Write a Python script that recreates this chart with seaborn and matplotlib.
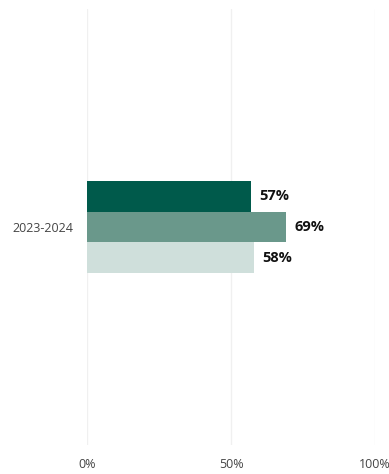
import matplotlib
matplotlib.use("Agg")
import matplotlib.pyplot as plt
import seaborn as sns
import pandas as pd

periods = ["2023-2024"]
series = ["A", "B", "C"]
values = [57, 69, 58]
colors = ["#005a4b", "#6a988b", "#cfdfdb"]
xticks = [0, 50, 100]
xtick_labels = ["0%", "50%", "100%"]

sns.set_theme(style="white")
plt.rcParams["font.family"] = ["Open Sans", "DejaVu Sans"]

df = pd.DataFrame({
    "period": periods * len(series),
    "series": series,
    "value": values,
})

fig = plt.figure(figsize=(3.89, 4.74), dpi=100)
ax = fig.add_axes([87 / 389, 29 / 474, 288 / 389, 436 / 474])

sns.barplot(data=df, x="value", y="period", hue="series", orient="h",
            palette=colors, width=0.213, saturation=1, ax=ax, legend=False,
            linewidth=0, edgecolor="none")

ax.set_ylim(0.5, -0.5)
ax.set_xlim(0, 100)

for cont in ax.containers:
    ax.bar_label(cont, labels=[f"{v:.0f}%" for v in cont.datavalues],
                 padding=6, fontsize=10.5, fontweight="bold", color="#111111")

ax.set_xticks(xticks)
ax.set_xticklabels(xtick_labels, fontsize=9, color="#444444")
ax.tick_params(axis="x", length=0, pad=9)
ax.tick_params(axis="y", length=0, pad=10, labelsize=9, labelcolor="#444444")
ax.grid(axis="x", color="#f0f0f0", linewidth=1)
ax.set_axisbelow(True)
for s in ax.spines.values():
    s.set_visible(False)
ax.set_xlabel("")
ax.set_ylabel("")

fig.savefig("out.png", dpi=100)
